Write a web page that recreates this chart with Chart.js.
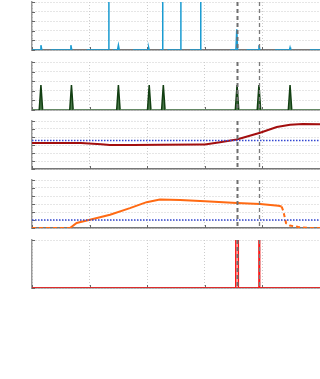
<!DOCTYPE html>
<html>
<head>
<meta charset="utf-8">
<script src="https://cdn.jsdelivr.net/npm/chart.js@4.4.1/dist/chart.umd.min.js"></script>
<style>
  html, body { margin: 0; padding: 0; background: #fff; }
  #wrap { position: relative; width: 320px; height: 379px; overflow: hidden; background: #fff; }
  #wrap canvas { position: absolute; left: 0; }
</style>
</head>
<body>
<div id="wrap"></div>
<script>
// x axis runs 0..100, ticks every 20 (no labels shown in the figure)
const xTicks = [0, 20, 40, 60, 80, 100];

// panel 1 - blue pulses with gaps (null = no data)
const flowPoints = [
  [0, 0], [2.8, 0], [3.1, 0.5], [3.4, 0], [5, null],
  [6.5, 0], [13.2, 0], [13.5, 0.5], [13.8, 0], [16, null],
  [19, 0], [26.6, 0], [26.7, 9], [27.4, null],
  [28.1, 0], [29.7, 0], [30, 0.5], [30.3, 0], [32.7, null],
  [35.1, 0], [40.3, 0], [40.5, 0.25], [40.7, 0], [42.5, null],
  [44.4, 0], [45.3, 0], [45.4, 9], [46.2, null],
  [47, 0], [51.6, 0], [51.7, 9], [53.3, null],
  [54.9, 0], [58.5, 0], [58.6, 9], [63.7, null],
  [68.8, 0], [70.8, 0], [71.1, 2.15], [71.4, 0], [71.6, 0], [73, null],
  [74.5, 0], [78.5, 0], [78.8, 0.5], [79.1, 0], [79.2, 0], [81.8, null],
  [84.4, 0], [89.4, 0], [89.6, 0.25], [89.8, 0], [93, null],
  [96.5, 0], [100, 0]
];

// panel 2 - green triangular pulses
const pulsePoints = [
  [0, 0], [2.5, 0], [3.1, 2.6], [3.7, 0],
  [13.1, 0], [13.7, 2.6], [14.3, 0],
  [29.4, 0], [30.0, 2.6], [30.6, 0],
  [40.1, 0], [40.7, 2.6], [41.3, 0],
  [45.0, 0], [45.6, 2.6], [46.2, 0],
  [70.6, 0], [71.2, 2.6], [71.8, 0],
  [78.2, 0], [78.8, 2.6], [79.4, 0],
  [89.0, 0], [89.6, 2.6], [90.2, 0],
  [100, 0]
];

// panel 3 - dark red curve and its reference level
const levelPoints = [
  [0, 3.25], [17, 3.25], [24, 3.1], [27, 3.0], [35, 3.0], [45, 3.03],
  [58, 3.05], [60, 3.05], [65.3, 3.35], [71.1, 3.69], [79.2, 4.53],
  [85, 5.24], [89.6, 5.54], [94, 5.62], [100, 5.58]
];
const levelRef = 3.57;

// panel 4 - orange curve (dashed outside the active window) and reference
const rampPoints = [
  [0, 0], [13.2, 0], [15.5, 0.62], [20.1, 1.03], [27.1, 1.65], [34, 2.48],
  [39.8, 3.23], [44.4, 3.55], [51.4, 3.5], [60.1, 3.33], [71.1, 3.11],
  [79.2, 3.0], [85.5, 2.77], [86.7, 2.68], [87.3, 2.06], [88.2, 0.62],
  [89.5, 0.3], [92.5, 0.13], [96, 0], [100, 0]
];
const rampSolidFrom = 13.2;
const rampSolidTo = 86.7;
const rampRef = 1.0;

// panel 5 - red event spikes
const eventPoints = [
  [0, 0], [70.75, 0], [71.2, 20], [71.65, 0],
  [78.55, 0], [78.8, 20], [79.05, 0], [100, 0]
];

// vertical event markers
const markerX = [71.2, 78.8];
const markerStyles = [
  { color: '#6f6f6f', width: 2, dash: [4, 3] },
  { color: '#7a7a7a', width: 1.3, dash: [4, 3] }
];

const panelTops = [2, 62, 121, 180, 240];
const panelHeight = 48;
const pad = 6;

const innerTicks = {
  id: 'innerTicks',
  beforeDatasetsDraw(chart) {
    const { ctx, chartArea, scales } = chart;
    ctx.save();
    ctx.strokeStyle = '#666';
    ctx.lineWidth = 1;
    ctx.beginPath();
    scales.y.ticks.forEach((t, i) => {
      const y = Math.round(scales.y.getPixelForTick(i)) + 0.5;
      ctx.moveTo(chartArea.left, y);
      ctx.lineTo(chartArea.left + 3, y);
    });
    scales.x.ticks.forEach((t, i) => {
      const x = Math.round(scales.x.getPixelForTick(i)) + 0.5;
      ctx.moveTo(x, chartArea.bottom);
      ctx.lineTo(x, chartArea.bottom - 3);
    });
    ctx.stroke();
    ctx.restore();
  }
};

const markers = {
  id: 'markers',
  afterDatasetsDraw(chart) {
    const { ctx, chartArea, scales } = chart;
    markerX.forEach((v, i) => {
      const s = markerStyles[i];
      const x = Math.round(scales.x.getPixelForValue(v)) + 0.5;
      ctx.save();
      ctx.strokeStyle = s.color;
      ctx.lineWidth = s.width;
      ctx.setLineDash(s.dash);
      ctx.beginPath();
      ctx.moveTo(x, chartArea.top);
      ctx.lineTo(x, chartArea.bottom);
      ctx.stroke();
      ctx.restore();
    });
  }
};

function makeScales(yMax, yStep) {
  return {
    x: {
      type: 'linear', min: xTicks[0], max: xTicks[xTicks.length - 1],
      afterBuildTicks: axis => { axis.ticks = xTicks.map(v => ({ value: v })); },
      ticks: { display: false },
      grid: { color: '#cccccc', lineWidth: 1, drawTicks: false },
      border: { color: '#777', width: 1.5, dash: [1, 2] }
    },
    y: {
      type: 'linear', min: 0, max: yMax,
      ticks: { display: false, stepSize: yStep },
      grid: { color: '#cccccc', lineWidth: 1, drawTicks: false },
      border: { color: '#999', width: 1.5, dash: [1, 2] }
    }
  };
}

function refLine(v) {
  return {
    data: [[0, v], [100, v]],
    borderColor: '#3347d1', borderWidth: 1.5, borderDash: [1.5, 1.5],
    pointRadius: 0
  };
}

function makePanel(index, datasets, yMax, yStep) {
  const canvas = document.createElement('canvas');
  canvas.width = 320;
  canvas.height = panelHeight + pad * 2;
  canvas.style.top = (panelTops[index] - pad) + 'px';
  document.getElementById('wrap').appendChild(canvas);
  return new Chart(canvas.getContext('2d'), {
    type: 'line',
    data: { datasets: datasets },
    options: {
      responsive: false,
      animation: false,
      devicePixelRatio: 1,
      layout: { autoPadding: false, padding: { left: 32, right: 0, top: pad, bottom: pad } },
      plugins: { legend: { display: false }, tooltip: { enabled: false } },
      elements: { point: { radius: 0 }, line: { tension: 0 } },
      scales: makeScales(yMax, yStep)
    },
    plugins: [innerTicks, markers]
  });
}

makePanel(0, [{
  data: flowPoints, borderColor: '#1a9bd1', borderWidth: 1.5, spanGaps: false
}], 5, 1);

makePanel(1, [{
  data: pulsePoints, borderColor: '#123f12', borderWidth: 1.5,
  fill: 'origin', backgroundColor: '#4a7a4a',
  segment: {
    borderColor: c => (c.p0.parsed.y === 0 && c.p1.parsed.y === 0) ? '#5e8c5e' : '#123f12'
  }
}], 5, 1);

makePanel(2, [
  refLine(levelRef),
  { data: levelPoints, borderColor: '#a30e0e', borderWidth: 2 }
], 6, 1);

makePanel(3, [
  refLine(rampRef),
  {
    data: rampPoints, borderColor: '#ff6a13', borderWidth: 2,
    segment: {
      borderDash: c => (c.p0.parsed.x < rampSolidFrom || c.p0.parsed.x >= rampSolidTo) ? [4, 3] : undefined
    }
  }
], 6, 1);

makePanel(4, [{
  data: eventPoints, borderColor: '#ff1414', borderWidth: 1.5
}], 1, 1);
</script>
</body>
</html>
